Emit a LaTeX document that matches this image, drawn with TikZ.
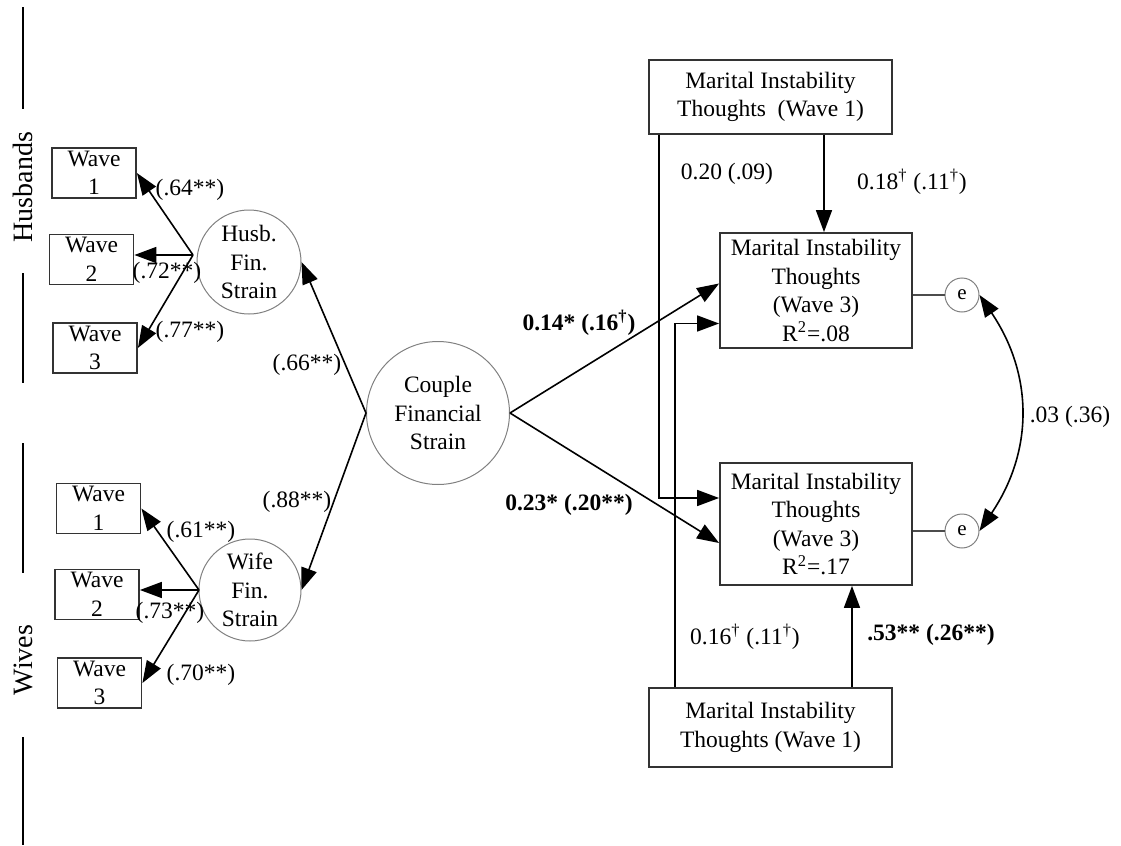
\documentclass[tikz,border=0pt]{standalone}
\usepackage{fontspec}
\setmainfont{Liberation Serif}
\usetikzlibrary{positioning, arrows.meta, calc}

\begin{document}
\begin{tikzpicture}[x=0.5pt, y=-0.5pt,
    every node/.style={font=\fontsize{11.75}{14.25}\selectfont, inner sep=0pt},
    wave/.style={rectangle, draw=black!80, line width=0.9pt, minimum width=42pt, minimum height=25pt, align=center},
    latent/.style={circle, draw=black!50, line width=0.5pt, align=center},
    obs/.style={rectangle, draw=black!80, line width=0.9pt, align=center},
    err/.style={circle, draw=black!50, line width=0.5pt, minimum size=17pt, font=\fontsize{10.5}{12}\selectfont},
    arr/.style={-{Triangle[length=11pt, width=8pt]}, line width=0.8pt},
    group/.style={font=\fontsize{14}{16}\selectfont, rotate=90}]

    \useasboundingbox (0,0) rectangle (1121,846);

    % side labels
    \node (husbands) [group] at (23,187) {Husbands};
    \node (wives) [group] at (23,660) {Wives};
    \draw[line width=0.8pt] (23,7) -- (23,109);
    \draw[line width=0.8pt] (23,273) -- (23,383);
    \draw[line width=0.8pt] (23,443) -- (23,573);
    \draw[line width=0.8pt] (23,737) -- (23,845);

    % indicators
    \node (hw1) [wave] at (94,173) {Wave\\1};
    \node (hw2) [wave] at (91.5,259.5) {Wave\\2};
    \node (hw3) [wave] at (95,348) {Wave\\3};
    \node (ww1) [wave] at (98.5,508.5) {Wave\\1};
    \node (ww2) [wave] at (97,594.5) {Wave\\2};
    \node (ww3) [wave] at (99.5,683) {Wave\\3};

    % latent factors
    \node (husb) [latent, minimum size=52pt] at (249,262) {Husb.\\Fin.\\Strain};
    \node (wife) [latent, minimum size=51pt] at (250,590) {Wife\\Fin.\\Strain};
    \node (couple) [latent, minimum size=71.5pt] at (438,413) {Couple\\Financial\\Strain};

    % outcomes
    \node (tw1) [obs, minimum width=121.5pt, minimum height=37pt] at (770.5,97) {Marital Instability\\Thoughts~ (Wave 1)};
    \node (mit3a) [obs, minimum width=96pt, minimum height=57.5pt] at (816,290.5) {Marital Instability\\Thoughts\\(Wave 3)\\R\textsuperscript{2}=.08};
    \node (mit3b) [obs, minimum width=96pt, minimum height=61pt] at (816,524) {Marital Instability\\Thoughts\\(Wave 3)\\R\textsuperscript{2}=.17};
    \node (bw1) [obs, minimum width=121.5pt, minimum height=39.5pt] at (770.5,727.5) {Marital Instability\\Thoughts (Wave 1)};
    \node (ea) [err] at (962,295) {e};
    \node (eb) [err] at (962,531) {e};

    \coordinate (husbsrc) at (193,255);
    \coordinate (wifesrc) at (199,590);
    \coordinate (ta) at ($(mit3a.north)+(8,0)$);
    \coordinate (tb) at ($(mit3b.south)+(36,0)$);

    % measurement paths
    \draw[arr] (husbsrc) -- (hw1.east);
    \draw[arr] (husbsrc) -- (husbsrc -| hw2.east);
    \draw[arr] (husbsrc) -- (hw3.east);
    \draw[arr] (wifesrc) -- (ww1.east);
    \draw[arr] (wifesrc) -- (wifesrc -| ww2.east);
    \draw[arr] (wifesrc) -- (ww3.east);
    \draw[arr] (couple.west) -- (husb.east);
    \draw[arr] (couple.west) -- (wife.east);

    % structural paths
    \draw[arr] (couple.east) -- ($(mit3a.west)+(0,-7)$);
    \draw[arr] (couple.east) -- ($(mit3b.west)+(0,19)$);
    \draw[arr] ($(tw1.south west)+(11,0)$) |- ($(mit3b.west)+(0,-26)$);
    \draw[arr] (tw1.south -| ta) -- (ta);
    \draw[arr] ($(bw1.north west)+(27,0)$) |- ($(mit3a.west)+(0,33)$);
    \draw[arr] (bw1.north -| tb) -- (tb);
    \draw[black!70, line width=0.6pt] (mit3a.east |- ea) -- (ea);
    \draw[black!70, line width=0.6pt] (mit3b.east |- eb) -- (eb);
    \draw[arr, {Triangle[length=11pt, width=8pt]}-{Triangle[length=11pt, width=8pt]}]
        (ea.east) .. controls +(54,80) and +(54,-80) .. (eb.east);

    % coefficients
    \node (l64) at (190,190) {(.64**)};
    \node (l72) at (167,273) {(.72**)};
    \node (l77) at (190,332) {(.77**)};
    \node (l66) at (307,365) {(.66**)};
    \node (l61) at (201,532) {(.61**)};
    \node (l73) at (170,613) {(.73**)};
    \node (l70) at (201,675) {(.70**)};
    \node (l88) at (297,502) {(.88**)};
    \node (l14) at (579,323) {\textbf{0.14* (.16\textsuperscript{\textdagger})}};
    \node (l23) at (569,505) {\textbf{0.23* (.20**)}};
    \node (l20) at (727,174) {0.20 (.09)};
    \node (l18) at (912,182) {0.18\textsuperscript{\textdagger} (.11\textsuperscript{\textdagger})};
    \node (l16) at (745,637) {0.16\textsuperscript{\textdagger} (.11\textsuperscript{\textdagger})};
    \node (l53) at (931,635) {\textbf{.53** (.26**)}};
    \node (l03) at (1070,417) {.03 (.36)};
\end{tikzpicture}
\end{document}
